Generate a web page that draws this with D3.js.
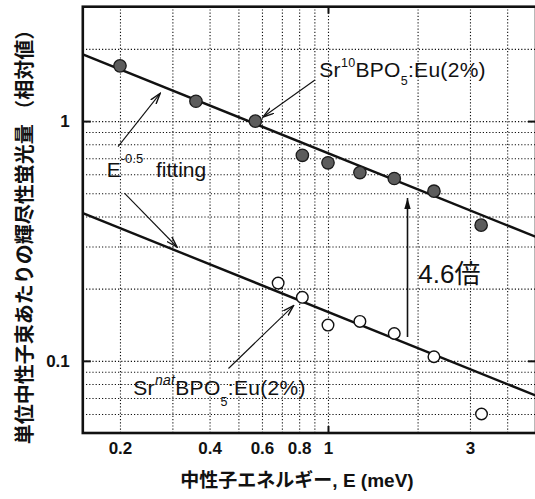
<!DOCTYPE html>
<html>
<head>
<meta charset="utf-8">
<script src="https://cdn.jsdelivr.net/npm/d3@7"></script>
<style>
  body { margin: 0; background: #fff; }
  svg { display: block; }
</style>
</head>
<body>
<svg id="chart" width="535" height="499"></svg>
<script>
// Photostimulated luminescence per unit neutron flux vs neutron energy
// Sr(10B)BPO5:Eu(2%) — enriched boron (filled markers)
const energy10 = [0.20, 0.36, 0.57, 0.82, 1.00, 1.28, 1.67, 2.27, 3.27];
const lum10    = [1.70, 1.21, 1.00, 0.72, 0.67, 0.61, 0.576, 0.51, 0.368];
// Sr(natB)BPO5:Eu(2%) — natural boron (open markers)
const energyNat = [0.68, 0.82, 1.00, 1.28, 1.67, 2.27, 3.28];
const lumNat    = [0.211, 0.184, 0.141, 0.146, 0.130, 0.104, 0.060];

// E^-0.5 fits, amplitude = value at E = 1 meV
const fitExponent = -0.5;
const fitAmp10 = 0.735;
const fitAmpNat = 0.16;

// Axes
const xDomain = [0.15, 5];
const yDomain = [0.05, 3];
const xTickLabels = [0.2, 0.4, 0.6, 0.8, 1, 3];
const yTickLabels = [0.1, 1];
const xMajorTicks = [1];
const yMajorTicks = [0.1, 1];
const xGridValues = [0.2, 0.3, 0.4, 0.5, 0.6, 0.7, 0.8, 0.9, 1, 2, 3, 4];
const yGridValues = [0.06, 0.07, 0.08, 0.09, 0.1, 0.2, 0.3, 0.4, 0.5, 0.6, 0.7, 0.8, 0.9, 1, 2];

const xTitle = "中性子エネルギー, E (meV)";
const yTitle = "単位中性子束あたりの輝尽性蛍光量 （相対値）";
const ratioLabel = "4.6倍";

const LATIN = "'Liberation Sans', Arial, 'Noto Sans CJK JP', sans-serif";
const CJK = "'Noto Sans CJK JP', 'Liberation Sans', sans-serif";

const svg = d3.select("#chart");
const plot = { left: 82.8, right: 536, top: 6.7, bottom: 433 };

const x = d3.scaleLog().domain(xDomain).range([plot.left, plot.right]);
const y = d3.scaleLog().domain(yDomain).range([plot.bottom, plot.top]);

const defs = svg.append("defs");
defs.append("clipPath").attr("id", "plotClip")
  .append("rect")
  .attr("x", plot.left).attr("y", plot.top)
  .attr("width", plot.right - plot.left).attr("height", plot.bottom - plot.top);

// Arrowheads
defs.append("marker")
  .attr("id", "barb").attr("viewBox", "0 0 12 8")
  .attr("refX", 11).attr("refY", 4)
  .attr("markerWidth", 12).attr("markerHeight", 8)
  .attr("markerUnits", "userSpaceOnUse").attr("orient", "auto")
  .append("path").attr("d", "M0,0.6 L11,4 L0,7.4")
  .attr("fill", "none").attr("stroke", "#111").attr("stroke-width", 1.4);
defs.append("marker")
  .attr("id", "tri").attr("viewBox", "0 0 12 8")
  .attr("refX", 11).attr("refY", 4)
  .attr("markerWidth", 12).attr("markerHeight", 8)
  .attr("markerUnits", "userSpaceOnUse").attr("orient", "auto")
  .append("path").attr("d", "M0,0.8 L11,4 L0,7.2 Z")
  .attr("fill", "#111");

// Dotted grid
const gridStyle = g => {
  g.select(".domain").remove();
  g.selectAll(".tick line")
    .attr("stroke", "#111").attr("stroke-width", 1.1)
    .attr("stroke-dasharray", "1.2,2");
};
svg.append("g")
  .attr("transform", `translate(0,${plot.bottom})`)
  .call(d3.axisBottom(x).tickValues(xGridValues)
    .tickSize(-(plot.bottom - plot.top)).tickFormat(""))
  .call(gridStyle);
svg.append("g")
  .attr("transform", `translate(${plot.left},0)`)
  .call(d3.axisLeft(y).tickValues(yGridValues)
    .tickSize(-(plot.right - plot.left)).tickFormat(""))
  .call(gridStyle);

// Fit lines
const fitLine = amp => d3.line()
  .x(e => x(e))
  .y(e => y(amp * Math.pow(e, fitExponent)));
const fitG = svg.append("g").attr("clip-path", "url(#plotClip)");
[fitAmp10, fitAmpNat].forEach(a => {
  fitG.append("path")
    .datum(xDomain)
    .attr("d", fitLine(a))
    .attr("fill", "none").attr("stroke", "#111").attr("stroke-width", 2.4);
});

// Data markers
svg.append("g").selectAll("circle")
  .data(d3.zip(energy10, lum10))
  .join("circle")
  .attr("cx", d => x(d[0])).attr("cy", d => y(d[1]))
  .attr("r", 6.2)
  .attr("fill", "#5c5c5c").attr("stroke", "#1a1a1a").attr("stroke-width", 1.3);
svg.append("g").selectAll("circle")
  .data(d3.zip(energyNat, lumNat))
  .join("circle")
  .attr("cx", d => x(d[0])).attr("cy", d => y(d[1]))
  .attr("r", 5.8)
  .attr("fill", "#fff").attr("stroke", "#111").attr("stroke-width", 1.4);

// Annotation arrows, endpoints in data coordinates [E, value]
const arrows = [
  { from: [0.904, 1.484], to: [0.605, 1.04], head: "barb" },
  { from: [0.197, 0.782], to: [0.273, 1.306], head: "barb" },
  { from: [0.207, 0.501], to: [0.311, 0.2984], head: "barb" },
  { from: [0.463, 0.0929], to: [0.766, 0.170], head: "barb" },
  { from: [1.85, 0.1257], to: [1.85, 0.4777], head: "tri" }
];
svg.append("g").selectAll("line")
  .data(arrows)
  .join("line")
  .attr("x1", d => x(d.from[0])).attr("y1", d => y(d.from[1]))
  .attr("x2", d => x(d.to[0])).attr("y2", d => y(d.to[1]))
  .attr("stroke", "#111")
  .attr("stroke-width", d => d.head === "tri" ? 1.6 : 1.1)
  .attr("marker-end", d => `url(#${d.head})`);

// Labels
const lab = svg.append("g").attr("font-family", LATIN).attr("fill", "#111");

const t10 = lab.append("text")
  .attr("x", x(0.935)).attr("y", y(1.523))
  .attr("font-size", 21).attr("letter-spacing", 0.3);
t10.append("tspan").text("Sr");
t10.append("tspan").attr("font-size", 12.5).attr("dy", -10).text("10");
t10.append("tspan").attr("dy", 10).text("BPO");
t10.append("tspan").attr("font-size", 12.5).attr("dy", 8).text("5");
t10.append("tspan").attr("dy", -8).text(":Eu(2%)");

const tFit = lab.append("text")
  .attr("x", x(0.1805)).attr("y", y(0.586))
  .attr("font-size", 21);
tFit.append("tspan").text("E");
tFit.append("tspan").attr("font-size", 13).attr("dy", -14).text("-0.5");
tFit.append("tspan").attr("dy", 14).attr("dx", 7).text(" fitting");

const tNat = lab.append("text")
  .attr("x", x(0.2217)).attr("y", y(0.0720))
  .attr("font-size", 21).attr("letter-spacing", 0.3);
tNat.append("tspan").text("Sr");
tNat.append("tspan").attr("font-size", 14).attr("font-style", "italic")
  .attr("dy", -10).text("nat");
tNat.append("tspan").attr("dy", 10).text("BPO");
tNat.append("tspan").attr("font-size", 12.5).attr("dy", 11).text("5");
tNat.append("tspan").attr("dy", -11).text(":Eu(2%)");

lab.append("text")
  .attr("x", x(2.012)).attr("y", y(0.2105))
  .attr("font-size", 26)
  .text(ratioLabel);

// Frame
svg.append("rect")
  .attr("x", plot.left).attr("y", plot.top)
  .attr("width", plot.right - plot.left).attr("height", plot.bottom - plot.top)
  .attr("fill", "none").attr("stroke", "#111").attr("stroke-width", 2.6);

// Major ticks on all four sides
const tickStyle = g => {
  g.select(".domain").remove();
  g.selectAll(".tick line").attr("stroke", "#111").attr("stroke-width", 2);
};
svg.append("g").attr("transform", `translate(0,${plot.bottom})`)
  .call(d3.axisBottom(x).tickValues(xMajorTicks).tickSize(-7).tickFormat(""))
  .call(tickStyle);
svg.append("g").attr("transform", `translate(0,${plot.top})`)
  .call(d3.axisTop(x).tickValues(xMajorTicks).tickSize(-7).tickFormat(""))
  .call(tickStyle);
svg.append("g").attr("transform", `translate(${plot.left},0)`)
  .call(d3.axisLeft(y).tickValues(yMajorTicks).tickSize(-8).tickFormat(""))
  .call(tickStyle);
svg.append("g").attr("transform", `translate(${plot.right},0)`)
  .call(d3.axisRight(y).tickValues(yMajorTicks).tickSize(-8).tickFormat(""))
  .call(tickStyle);

// Tick labels
const labelStyle = g => {
  g.select(".domain").remove();
  g.selectAll(".tick line").remove();
  g.selectAll(".tick text")
    .attr("font-family", LATIN).attr("font-size", 17)
    .attr("font-weight", "bold").attr("fill", "#111");
};
svg.append("g").attr("transform", `translate(0,${plot.bottom})`)
  .call(d3.axisBottom(x).tickValues(xTickLabels).tickSize(0).tickPadding(9)
    .tickFormat(d3.format("~g")))
  .call(labelStyle);
svg.append("g").attr("transform", `translate(${plot.left},0)`)
  .call(d3.axisLeft(y).tickValues(yTickLabels).tickSize(0).tickPadding(13)
    .tickFormat(d3.format("~g")))
  .call(labelStyle);

// Axis titles
svg.append("text")
  .attr("x", 297).attr("y", 487)
  .attr("text-anchor", "middle")
  .attr("font-family", LATIN).attr("font-size", 19).attr("font-weight", "bold")
  .attr("fill", "#111")
  .text(xTitle);
svg.append("text")
  .attr("transform", "translate(32,232) rotate(-90)")
  .attr("text-anchor", "middle")
  .attr("font-family", CJK).attr("font-size", 20).attr("font-weight", "bold")
  .attr("fill", "#111")
  .text(yTitle);
</script>
</body>
</html>
